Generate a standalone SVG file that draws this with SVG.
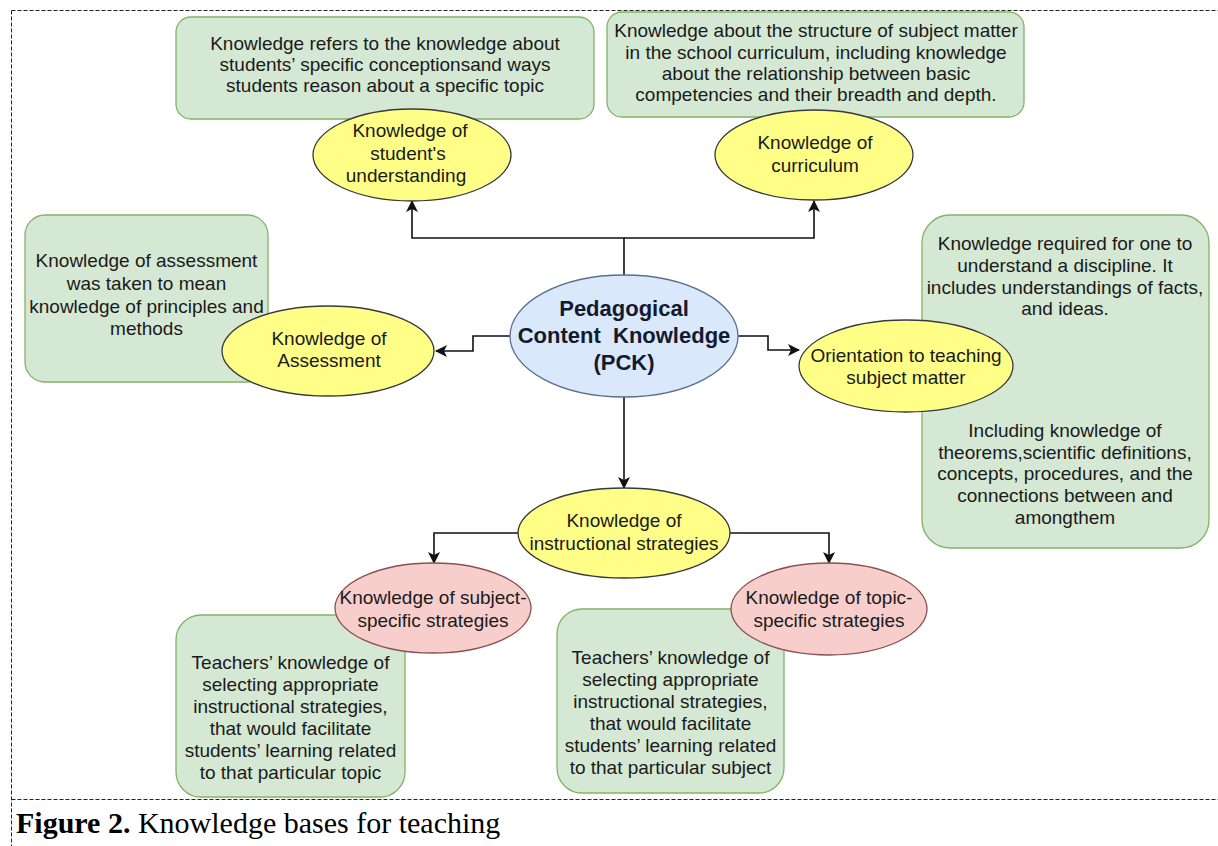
<svg xmlns="http://www.w3.org/2000/svg" width="1218" height="846" viewBox="0 0 1218 846">
<defs>
<style>
.frame{stroke:#222;stroke-width:1;stroke-dasharray:4 2;fill:none}
.gbox{fill:#d5e8d4;stroke:#82b366;stroke-width:1.3}
.yel{fill:#ffff88;stroke:#36393d;stroke-width:1.3}
.blue{fill:#dae8fc;stroke:#5a6f8f;stroke-width:1.3}
.pink{fill:#f8cecc;stroke:#8a5050;stroke-width:1.3}
.t{font-family:"Liberation Sans",Arial,sans-serif;font-size:19px;fill:#1a1a1a;text-anchor:middle}
.tb{font-family:"Liberation Sans",Arial,sans-serif;font-size:22px;font-weight:bold;fill:#141a2e;text-anchor:middle}
.conn{fill:none;stroke:#111;stroke-width:1.6}
.cap{font-family:"Liberation Serif","Times New Roman",serif;font-size:30px;fill:#000}
</style>
<marker id="arr" viewBox="0 0 12 12" refX="11" refY="6" markerWidth="12" markerHeight="12" markerUnits="userSpaceOnUse" orient="auto">
<path d="M0,0 L12,6 L0,12 L3,6 Z" fill="#111"/>
</marker>
</defs>
<rect width="1218" height="846" fill="#fff"/>
<g id="frame">
<line class="frame" x1="11.5" y1="10.5" x2="1218" y2="10.5"/>
<line class="frame" x1="11.5" y1="10.5" x2="11.5" y2="846"/>
<line class="frame" x1="11.5" y1="799.5" x2="1218" y2="799.5"/>
</g>

<g id="box-students">
<rect class="gbox" x="176" y="17" width="418" height="102" rx="15"/>
<text class="t" x="385" y="50">Knowledge refers to the knowledge about</text>
<text class="t" x="385" y="71">students’ specific conceptionsand ways</text>
<text class="t" x="385" y="92">students reason about a specific topic</text>
</g>
<g id="box-curriculum">
<rect class="gbox" x="607" y="12" width="417" height="105" rx="15"/>
<text class="t" x="816" y="37">Knowledge about the structure of subject matter</text>
<text class="t" x="816" y="59">in the school curriculum, including knowledge</text>
<text class="t" x="816" y="80">about the relationship between basic</text>
<text class="t" x="816" y="101">competencies and their breadth and depth.</text>
</g>
<g id="box-assessment">
<rect class="gbox" x="25" y="215" width="243" height="167" rx="20"/>
<text class="t" x="146.5" y="267">Knowledge of assessment</text>
<text class="t" x="146.5" y="290">was taken to mean</text>
<text class="t" x="146.5" y="313">knowledge of principles and</text>
<text class="t" x="146.5" y="335">methods</text>
</g>
<g id="box-orientation">
<rect class="gbox" x="922" y="215" width="287" height="333" rx="28"/>
<text class="t" x="1065" y="250">Knowledge required for one to</text>
<text class="t" x="1065" y="272">understand a discipline. It</text>
<text class="t" x="1065" y="294">includes understandings of facts,</text>
<text class="t" x="1065" y="315">and ideas.</text>
<text class="t" x="1065" y="437">Including knowledge of</text>
<text class="t" x="1065" y="459">theorems,scientific definitions,</text>
<text class="t" x="1065" y="480">concepts, procedures, and the</text>
<text class="t" x="1065" y="502">connections between and</text>
<text class="t" x="1065" y="524">amongthem</text>
</g>
<g id="box-topic">
<rect class="gbox" x="176" y="615" width="229" height="182" rx="25"/>
<text class="t" x="290.5" y="669">Teachers’ knowledge of</text>
<text class="t" x="290.5" y="691">selecting appropriate</text>
<text class="t" x="290.5" y="713">instructional strategies,</text>
<text class="t" x="290.5" y="735">that would facilitate</text>
<text class="t" x="290.5" y="757">students’ learning related</text>
<text class="t" x="290.5" y="779">to that particular topic</text>
</g>
<g id="box-subject">
<rect class="gbox" x="557" y="609" width="227" height="184" rx="25"/>
<text class="t" x="670.5" y="664">Teachers’ knowledge of</text>
<text class="t" x="670.5" y="686">selecting appropriate</text>
<text class="t" x="670.5" y="708">instructional strategies,</text>
<text class="t" x="670.5" y="730">that would facilitate</text>
<text class="t" x="670.5" y="752">students’ learning related</text>
<text class="t" x="670.5" y="774">to that particular subject</text>
</g>

<g id="connectors">
<path class="conn" d="M624,275 V238 H412 V201" marker-end="url(#arr)"/>
<path class="conn" d="M624,238 H814 V201" marker-end="url(#arr)"/>
<path class="conn" d="M510,336 H473 V351 H436" marker-end="url(#arr)"/>
<path class="conn" d="M738,336 H768 V350 H799" marker-end="url(#arr)"/>
<path class="conn" d="M624,397 V488" marker-end="url(#arr)"/>
<path class="conn" d="M518,533 H434 V563" marker-end="url(#arr)"/>
<path class="conn" d="M730,533 H829 V563" marker-end="url(#arr)"/>
</g>

<g id="node-pck">
<ellipse class="blue" cx="624" cy="336" rx="114" ry="61"/>
<text class="tb" x="624" y="316">Pedagogical</text>
<text class="tb" x="624" y="343" xml:space="preserve">Content  Knowledge</text>
<text class="tb" x="624" y="370">(PCK)</text>
</g>
<g id="node-students">
<ellipse class="yel" cx="412" cy="155" rx="99" ry="46"/>
<text class="t" x="410" y="137">Knowledge of</text>
<text class="t" x="408" y="160">student's</text>
<text class="t" x="406" y="182">understanding</text>
</g>
<g id="node-curriculum">
<ellipse class="yel" cx="814" cy="155" rx="99" ry="45"/>
<text class="t" x="815" y="149">Knowledge of</text>
<text class="t" x="815" y="172">curriculum</text>
</g>
<g id="node-assessment">
<ellipse class="yel" cx="328" cy="351" rx="106" ry="45"/>
<text class="t" x="329" y="345">Knowledge of</text>
<text class="t" x="329" y="367">Assessment</text>
</g>
<g id="node-orientation">
<ellipse class="yel" cx="906" cy="366" rx="107" ry="46"/>
<text class="t" x="906" y="362">Orientation to teaching</text>
<text class="t" x="906" y="384">subject matter</text>
</g>
<g id="node-instructional">
<ellipse class="yel" cx="624" cy="533" rx="106" ry="45"/>
<text class="t" x="624" y="527">Knowledge of</text>
<text class="t" x="624" y="550">instructional strategies</text>
</g>
<g id="node-subject-specific">
<ellipse class="pink" cx="433" cy="608" rx="98" ry="45"/>
<text class="t" x="433" y="604">Knowledge of subject-</text>
<text class="t" x="433" y="627">specific strategies</text>
</g>
<g id="node-topic-specific">
<ellipse class="pink" cx="829" cy="609" rx="98" ry="46"/>
<text class="t" x="829" y="604">Knowledge of topic-</text>
<text class="t" x="829" y="627">specific strategies</text>
</g>

<g id="caption">
<text class="cap" x="16" y="833"><tspan font-weight="bold">Figure 2.</tspan> Knowledge bases for teaching</text>
</g>
</svg>
